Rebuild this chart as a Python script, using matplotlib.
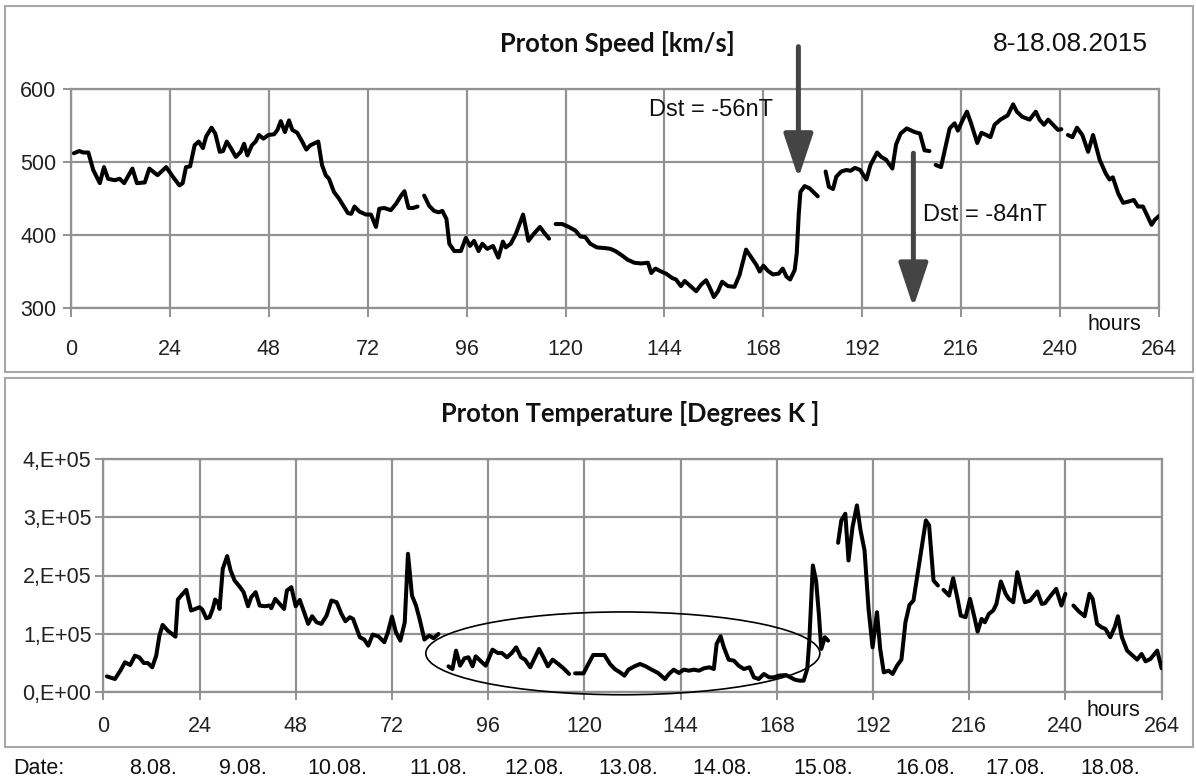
import numpy as np
import matplotlib
matplotlib.use("Agg")
import matplotlib.pyplot as plt
from matplotlib.patches import Ellipse, Rectangle

plt.rcParams['font.family'] = ['Liberation Sans', 'DejaVu Sans']

nan = float('nan')

# ---------------- data ----------------
speed_hours = [0.7, 2, 3, 4.2, 5.4, 7, 8, 9, 10.6, 11.8, 12.9, 14.9, 16, 17.9, 19, 21, 23.1, 24.7, 26.3, 27.1,
               27.9, 28.9, 30, 31, 32, 32.8, 34.1, 35, 36.1, 36.9, 37.8, 38.8, 40, 41.2, 42, 42.8, 43.9, 44.8,
               45.6, 46.7, 47.9, 49.3, 50.1, 50.9, 51.9, 52.9, 53.7, 54.9, 56.1, 57.1, 58.1, 60, 60.9, 61.8,
               62.6, 63.8, 65, 66.2, 67.2, 68, 68.8, 70, 71.6, 72.8, 74, 74.8, 76, 77.6, 78.9, 80.1, 80.9, 81.9,
               83, 84.1, nan,
               85.7, 86.9, 88.1, 89.2, 90.1, 91.1, 91.8, 93, 94.6, 95.8, 96.8, 97.8, 98.9, 99.8, 101, 102.4,
               103.7, 104.8, 105.5, 106.7, 107.9, 109.7, 111, 112.2, 113.8, 114.7, 116, nan,
               117.6, 119.2, 120.8, 122.4, 123.6, 124.8, 126, 127.6, 129.7, 130.9, 132.1, 133.7, 135.1, 136.7,
               138.3, 140, 140.8, 141.8, 143.2, 144.4, 145.9, 146.8, 148, 148.9, 150.5, 151.7, 152.9, 154.1,
               154.9, 156, 157, 158, 159.4, 161, 162.2, 163.8, 165, 166.3, 167.1, 168, 169.1, 170.3, 171.7,
               172.7, 173.6, 174.5, 175.6, 176.1, 176.6, 177, 178, 179.2, 181.2, nan,
               183.1, 183.9, 184.9, 185.7, 186.9, 188.1, 189.2, 190.2, 191.5, 193, 194, 195.6, 196.6, 197.8,
               199.3, 200.2, 201.3, 202.8, 204.7, 206, 207.1, 208.3, nan,
               209.8, 211.1, 212.2, 213.2, 214.4, 215.2, 216.4, 217.4, 218.4, 219.9, 220.9, 222.1, 223.1,
               224.1, 225.5, 227.3, 228.6, 229.5, 230.8, 232.6, 234.1, 235, 236.1, 237.1, 238.3, 239.5, 240.3, nan,
               241.9, 243, 244.1, 245.4, 246.8, 248, 249.6, 251.1, 252, 252.8, 254.1, 255.3, 256.7, 257.9,
               258.9, 260.1, 261.2, 262.2, 263, 264]
speed_kms = [512, 515, 513, 513, 489, 471, 493, 477, 475, 477, 471, 491, 471, 472, 491, 482, 493, 480, 468, 471,
             493, 494, 523, 528, 519, 535, 547, 539, 514, 515, 528, 519, 507, 514, 525, 509, 523, 528,
             537, 532, 537, 538, 544, 556, 541, 557, 544, 540, 528, 517, 523, 528, 496, 482,
             477, 459, 450, 439, 430, 429, 439, 432, 428, 428, 411, 436, 437, 434, 443, 454, 460, 437,
             437, 439, nan,
             454, 440, 433, 431, 433, 422, 388, 378, 378, 396, 385, 392, 378, 388, 381, 385,
             369, 391, 383, 388, 401, 428, 392, 401, 411, 404, 395, nan,
             415, 415, 411, 406, 398, 397, 388, 383, 382, 381, 378, 372, 366, 362,
             361, 362, 348, 354, 350, 347, 341, 339, 330, 337, 329, 323, 332, 338,
             329, 315, 323, 336, 330, 329, 345, 380, 370, 359, 350, 358, 351, 346, 347,
             354, 343, 339, 352, 375, 430, 459, 467, 464, 453, nan,
             487, 466, 463, 480, 487, 489, 488, 492, 489, 476, 496, 513, 507, 503,
             491, 524, 539, 546, 541, 539, 516, 515, nan,
             496, 493, 521, 546, 553, 543, 558, 569, 553, 526, 540, 537, 534,
             551, 558, 564, 579, 569, 562, 558, 569, 558, 551, 558, 551, 544, 545, nan,
             537, 534, 547, 537, 514, 537, 503, 484, 476, 479, 457, 444, 446, 448,
             439, 439, 426, 414, 421, 426]

temp_hours = [0.9, 2.9, 4.25, 5.4, 6.7, 7.9, 9, 10.1, 11.1, 12.2, 13.2, 14, 14.8, 16.1, 18, 18.6, 19.6, 20.7,
              21.9, 23, 24, 24.7, 25.7, 26.5, 27.3, 27.9, 28.6, 29, 29.8, 30.9, 31.75, 32.75, 34, 35, 36.1,
              36.9, 38, 39, 40.25, 41.5, 41.9, 42.9, 44, 45.1, 45.8, 46.9, 48, 49, 50.1, 51.1, 52.1, 53.2,
              54.4, 55.7, 56.9, 58.2, 59.4, 60.4, 61.5, 62.3, 64, 65.1, 66.1, 67.2, 68.6, 70.1, 71, 72, 73,
              74.1, 75.2, 76, 77, 78, 78.9, 80.1, 81.3, 82.4, 83.6, nan,
              86.1, 87.1, 88, 89, 90.1, 91.1, 92.1, 92.9, 94.3, 95.4, 97.1, 98.4, 99.4, 100.7, 101.9, 103,
              104.2, 105.2, 106.5, 107.5, 108.7, 109.8, 110.9, 112.1, 113.5, 114.8, 116.2, nan,
              117.7, 119.8, 121, 122.2, 123.5, 125, 126.4, 127.6, 128.9, 130, 131, 132.5, 133.9, 135.3,
              136.8, 138.4, 140.1, 141.1, 142.3, 143.6, 144.8, 146.1, 147.3, 148.6, 149.8, 151.2, 152.3,
              153, 154, 154.8, 156, 157.3, 158.5, 159.8, 161.2, 162.3, 163.5, 164.8, 166.1, 167.3, 168.5,
              170.3, 171.4, 172.5, 173.7, 174.7, 175.6, 176.1, 177, 177.8, 178.5, 179.1, 180, 180.8, nan,
              183.3, 184.1, 185.1, 185.9, 186.9, 188, 188.9, 189.9, 190.9, 191.9, 193, 193.8, 194.7, 195.9,
              196.9, 198, 199.1, 200.1, 201.1, 202.1, 203.4, 205.2, 206, 207.1, 208.2, nan,
              209.6, 211, 212, 213.1, 213.9, 215.1, 216.2, 217.3, 218.1, 219.1, 219.9, 220.9, 222, 222.8,
              223.9, 225.1, 225.9, 227, 228, 229.1, 229.9, 231.2, 233, 234.1, 234.9, 236.5, 237.7, 239, 240, nan,
              242, 243.4, 244.8, 246, 246.8, 247.9, 249, 250, 251.2, 252.3, 253.1, 254.1, 255.4, 256.8,
              257.9, 259, 260, 261.2, 262.9, 264]
temp_kelvin = [26400, 21800, 36200, 50600, 46000, 62000, 59000, 49400, 49400, 42000, 62000, 96600, 115000,
               105000, 94800, 158600, 166700, 175300,
               139700, 142500, 145400, 141400, 126400, 128200, 142500, 158600, 154000, 142500, 211500, 233300,
               208600, 191400, 181000, 171300, 147100,
               162600, 171300, 148300, 147100, 148300, 143700, 159800, 151100, 142500, 174100, 179900, 147100,
               158000, 136800, 116700, 129900, 119500,
               116700, 131000, 156900, 154000, 133900, 121300, 128200, 125300, 93700, 89700, 79300, 98300,
               95400, 85100, 102300, 129300, 102300,
               87900, 119500, 237400, 165500, 148300, 125300, 89700, 96600, 92000, 99400, nan,
               43700, 39000, 70700, 44800, 57500, 59200, 43700, 60900, 51700, 44800, 72400, 66700, 66700,
               59200, 66700, 76400,
               59200, 55200, 42000, 56300, 73600, 59200, 43700, 55200, 47700, 40200, 30500, nan,
               31600, 31600, 47700, 63200, 63200, 63200, 47700, 39000, 33300, 27600, 37900, 43700, 47700, 43700,
               37900, 32200, 21800, 30500, 37900, 32200, 37900, 36200, 37900, 36200, 40200, 42000, 39000,
               82200, 95400, 76400, 55200, 53400, 44800, 39000, 42000, 24700, 21800, 30500, 24700, 24700, 27600,
               28700, 24700, 20700, 19000, 19000, 39000, 85100, 217200, 191400, 133900, 73600, 93700, 87900, nan,
               256300, 294800, 306300, 225900, 283300, 320700, 277600, 243100, 142500, 76400, 136800, 73600,
               33300, 36200,
               30500, 44800, 55200, 119500, 149400, 156900, 214400, 294800, 286200, 191400, 182800, nan,
               175300, 165500, 195400, 159800, 131000, 128200, 159800, 128200, 103400, 125300, 119500, 133900,
               139700, 151100,
               189700, 168400, 159800, 154000, 205700, 174100, 154000, 156900, 172400, 151100, 152300, 166700,
               177000, 148300, 168400, nan,
               148300, 137900, 129900, 168400, 159800, 116700, 110900, 108000, 93700, 110900, 129900, 93700,
               70700, 62100,
               55200, 64900, 52300, 56300, 70700, 40200]

hour_ticks = list(range(0, 265, 24))
speed_ticks = [300, 400, 500, 600]
temp_ticks = [0, 100000, 200000, 300000, 400000]
temp_tick_labels = ["0,E+00", "1,E+05", "2,E+05", "3,E+05", "4,E+05"]
date_labels = ["8.08.", "9.08.", "10.08.", "11.08.", "12.08.", "13.08.", "14.08.", "15.08.",
               "16.08.", "17.08.", "18.08."]

# ---------------- layout ----------------
W, H = 1196, 784
fig = plt.figure(figsize=(W / 100, H / 100), dpi=100)
fig.patch.set_facecolor('white')


def fx(x):
    return x / W


def fy(y):
    return 1 - y / H


GRID = '#929292'
FRAME = '#a8a8a8'
TXT = '#111111'
TICKSIZE = 15.5

# panel frames
fig.patches.append(Rectangle((fx(5), fy(372)), fx(1193) - fx(5), fy(6) - fy(372),
                             transform=fig.transFigure, fill=False, ec=FRAME, lw=1.5))
fig.patches.append(Rectangle((fx(5), fy(747)), fx(1193) - fx(5), fy(378) - fy(747),
                             transform=fig.transFigure, fill=False, ec=FRAME, lw=1.5))

ax1 = fig.add_axes([fx(71), fy(308), fx(1159) - fx(71), fy(89) - fy(308)])
ax2 = fig.add_axes([fx(103.3), fy(691.7), fx(1161.6) - fx(103.3), fy(459.3) - fy(691.7)])

for ax in (ax1, ax2):
    ax.set_facecolor('white')
    for s in ax.spines.values():
        s.set_color(GRID)
        s.set_linewidth(1.6)
    ax.grid(True, color=GRID, lw=1.6)
    ax.set_axisbelow(True)
    ax.set_xlim(0, 264)
    ax.set_xticks(hour_ticks)

# top panel
ax1.plot(speed_hours, speed_kms, color='black', lw=2.9, solid_joinstyle='round',
         solid_capstyle='round', zorder=3)
ax1.set_ylim(300, 600)
ax1.set_yticks(speed_ticks)
ax1.tick_params(axis='x', direction='out', length=6.5, width=1.4, color=GRID, pad=16,
                labelsize=TICKSIZE, labelcolor='#222222')
ax1.tick_params(axis='y', direction='out', length=5.5, width=1.4, color=GRID, pad=5,
                labelsize=TICKSIZE, labelcolor='#222222')

# bottom panel
ax2.plot(temp_hours, temp_kelvin, color='black', lw=2.9, solid_joinstyle='round',
         solid_capstyle='round', zorder=3)
ax2.set_ylim(0, 400000)
ax2.set_yticks(temp_ticks)
ax2.set_yticklabels(temp_tick_labels)
ax2.tick_params(axis='x', direction='out', length=5.5, width=1.4, color=GRID, pad=12,
                labelsize=TICKSIZE, labelcolor='#222222')
ax2.tick_params(axis='y', direction='out', length=5.5, width=1.4, color=GRID, pad=3,
                labelsize=TICKSIZE, labelcolor='#222222')

# ellipse
ax2.add_patch(Ellipse((129.6, 66000), width=98.3, height=142500, fill=False, ec='black',
                      lw=1.2, zorder=4, clip_on=False))

# arrows
ARROW = '#444444'
ax1.annotate('', xy=(176.5, 478), xytext=(176.5, 658), annotation_clip=False,
             arrowprops=dict(arrowstyle='-|>,head_length=1.35,head_width=0.45', color=ARROW,
                             lw=3.6, mutation_scale=20, shrinkA=0, shrinkB=0))
ax1.annotate('', xy=(204.4, 301), xytext=(204.4, 512), annotation_clip=False,
             arrowprops=dict(arrowstyle='-|>,head_length=1.35,head_width=0.45', color=ARROW,
                             lw=3.6, mutation_scale=20, shrinkA=0, shrinkB=0))

# texts
title_font = ['Lato', 'DejaVu Sans']
fig.text(fx(617), fy(43), 'Proton Speed [km/s]', ha='center', va='center', fontsize=18.4,
         fontweight='bold', family=title_font, color=TXT)
fig.text(fx(630), fy(413), 'Proton Temperature [Degrees K ]', ha='center', va='center', fontsize=18.4,
         fontweight='bold', family=title_font, color=TXT)
fig.text(fx(1070), fy(44), '8-18.08.2015', ha='center', va='center', fontsize=19, color=TXT)
fig.text(fx(711), fy(110), 'Dst = -56nT', ha='center', va='center', fontsize=17, color=TXT)
fig.text(fx(985), fy(215), 'Dst = -84nT', ha='center', va='center', fontsize=17, color=TXT)
fig.text(fx(1114), fy(325), 'hours', ha='center', va='center', fontsize=TICKSIZE, color=TXT)
fig.text(fx(1113), fy(710), 'hours', ha='center', va='center', fontsize=TICKSIZE, color=TXT)

# date row
date_x = [153, 243, 337, 438, 534, 628, 722, 823, 925, 1015, 1110]
fig.text(fx(39), fy(768), 'Date:', ha='center', va='center', fontsize=TICKSIZE, color=TXT)
for lbl, x in zip(date_labels, date_x):
    fig.text(fx(x), fy(768), lbl, ha='center', va='center', fontsize=TICKSIZE, color=TXT)

fig.savefig('out.png', dpi=100, facecolor='white')
